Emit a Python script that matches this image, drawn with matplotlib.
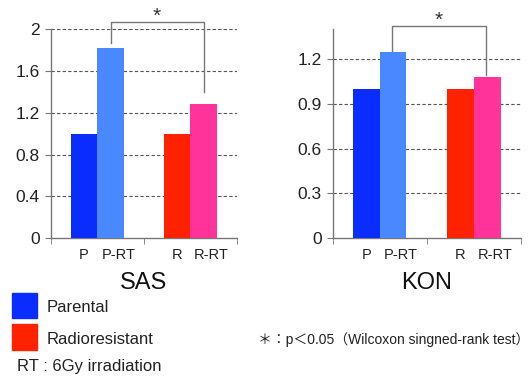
import matplotlib.pyplot as plt
from matplotlib.patches import Rectangle

plt.rcParams['font.family'] = ['Liberation Sans', 'DejaVu Sans']

# data
labels = ['P', 'P-RT', 'R', 'R-RT']
sas_values = [1.0, 1.82, 1.0, 1.28]
kon_values = [1.0, 1.245, 1.0, 1.08]
bar_colors = ['#0a2cff', '#4a88ff', '#ff2200', '#ff3399']
sas_ticks = [0, 0.4, 0.8, 1.2, 1.6, 2]
kon_ticks = [0, 0.3, 0.6, 0.9, 1.2]
positions = [0, 1, 3.5, 4.5]

fig = plt.figure(figsize=(5.3, 3.78), dpi=100)
ax1 = fig.add_axes([0.0962, 0.370, 0.351, 0.553])
ax2 = fig.add_axes([0.628, 0.370, 0.355, 0.553])


def draw_panel(ax, values, yticks, ymax, title, ytick_fmt, bracket):
    ax.bar(positions, values, width=1.0, color=bar_colors, edgecolor='none', zorder=3)
    ax.set_xlim(-1.24, 5.76)
    ax.set_ylim(0, ymax)
    ax.set_yticks(yticks)
    ax.set_yticklabels([ytick_fmt(t) for t in yticks])
    for t in yticks[1:]:
        ax.plot([-1.24, 5.76], [t, t], ls=(0, (3, 2)), color='#555555', lw=0.8, zorder=1)
    ax.set_xticks([0, 1.3, 3.5, 4.8])
    ax.set_xticklabels(labels, fontsize=10.5, color='#222222')
    ax.tick_params(axis='x', length=0, pad=7)
    ax.set_xticks([-1.24, 2.25, 5.76], minor=True)
    ax.tick_params(axis='x', which='minor', length=4, color='#777777')
    ax.tick_params(axis='y', length=4, color='#777777', labelsize=12.5, labelcolor='#222222', pad=4)
    for s in ['top', 'right']:
        ax.spines[s].set_visible(False)
    for s in ['left', 'bottom']:
        ax.spines[s].set_color('#777777')
        ax.spines[s].set_linewidth(1.0)
    ax.text(0.5, -0.215, title, transform=ax.transAxes, ha='center', va='center',
            fontsize=17, color='#111111')
    x1, x2, y1, y2, ytop = bracket
    ax.plot([x1, x1, x2, x2], [y1, ytop, ytop, y2], color='#777777', lw=1.0, clip_on=False)
    ax.text((x1 + x2) / 2, ytop + ymax * 0.028, '*', ha='center', va='center',
            fontsize=15, color='#333333')


def fmt_sas(t):
    return '0' if t == 0 else ('2' if t == 2 else f'{t:.1f}')


def fmt_kon(t):
    return '0' if t == 0 else f'{t:.1f}'


draw_panel(ax1, sas_values, sas_ticks, 2.0, 'SAS', fmt_sas, (1.0, 4.5, 1.87, 1.40, 2.067))
draw_panel(ax2, kon_values, kon_ticks, 1.40, 'KON', fmt_kon, (0.97, 4.45, 1.254, 1.09, 1.42))

# legend
fig.patches.append(Rectangle((12 / 530, 1 - 318 / 378), 25 / 530, 25 / 378,
                             transform=fig.transFigure, color=bar_colors[0]))
fig.patches.append(Rectangle((12 / 530, 1 - 350 / 378), 25 / 530, 26 / 378,
                             transform=fig.transFigure, color=bar_colors[2]))
fig.text(47 / 530, 1 - 308 / 378, 'Parental', fontsize=12, va='center', color='#222222')
fig.text(47 / 530, 1 - 340 / 378, 'Radioresistant', fontsize=12, va='center', color='#222222')
fig.text(17 / 530, 1 - 367 / 378, 'RT : 6Gy irradiation', fontsize=12, va='center', color='#222222')
fig.text(258 / 530, 1 - 340 / 378, '＊：p＜0.05（Wilcoxon singned-rank test）', fontsize=10,
         va='center', color='#222222', family=['Liberation Sans', 'Noto Sans CJK JP'])

fig.savefig('out.png', dpi=100)
